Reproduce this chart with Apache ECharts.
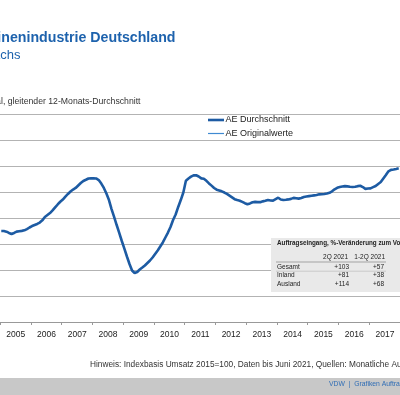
<!DOCTYPE html>
<html><head><meta charset="utf-8">
<script src="https://cdn.jsdelivr.net/npm/echarts@6/dist/echarts.min.js"></script>
<style>html,body{margin:0;padding:0;background:#fff;}#c{width:400px;height:395px;}</style>
</head><body><div id="c"></div>
<script>
// 12-month moving average, monthly values per year (Jan..Dec)
const years = [2005,2006,2007,2008,2009,2010,2011,2012,2013,2014,2015,2016,2017];
const ae2005 = [70.0,70.0,69.5,68.5,67.7,68.5,69.5,69.8,70.1,70.5,71.5,72.7];
const ae2006 = [73.8,74.6,75.4,76.5,78.2,80.8,82.3,83.8,85.8,88.1,90.4,92.5];
const ae2007 = [94.2,96.5,98.5,100.4,101.9,103.1,105.0,106.9,108.5,109.4,110.4,110.5];
const ae2008 = [110.5,110.4,109.2,106.5,103.1,98.8,93.8,86.9,80.8,74.6,68.5,62.3];
const ae2009 = [56.5,50.4,44.6,39.6,37.7,38.5,40.4,41.9,43.5,45.4,47.3,49.6];
const ae2010 = [52.3,55.0,58.1,61.2,65.0,68.8,73.1,78.5,82.7,88.5,93.8,99.6];
const ae2011 = [108.7,110.4,111.8,112.8,112.9,111.9,110.5,110.2,108.6,106.6,104.9,103.1];
const ae2012 = [101.8,101.2,100.5,99.6,98.5,97.2,95.9,94.5,93.8,93.3,92.4,91.4];
const ae2013 = [90.6,91.2,92.1,92.4,92.2,92.2,92.8,93.2,93.8,93.5,93.4,94.5];
const ae2014 = [95.6,94.2,93.8,94.0,94.3,94.7,95.5,95.2,94.9,95.4,96.2,96.5];
const ae2015 = [96.8,97.1,97.4,97.7,98.2,98.3,98.5,98.8,99.4,100.5,102.1,103.2];
const ae2016 = [103.8,104.2,104.5,104.3,104.0,103.9,104.0,104.5,104.8,103.8,102.4,102.7];
const ae2017 = [102.8,103.7,104.6,106.2,107.7,110.4,113.1,115.9,117.0,117.3,117.7,118.2];
const aeOriginal = [];
const legendNames = ['AE Durchschnitt','AE Originalwerte'];
const tableHead = ['2Q 2021','1-2Q 2021'];
const tableRows = ['Gesamt','Inland','Ausland'];
const tableQ2 = ['+103','+81','+114'];
const tableH1 = ['+57','+38','+68'];

const yearly = [ae2005,ae2006,ae2007,ae2008,ae2009,ae2010,ae2011,ae2012,ae2013,ae2014,ae2015,ae2016,ae2017];
const avgData = [];
years.forEach((y,i)=>yearly[i].forEach((v,m)=>avgData.push([y+(m+0.5)/12, v])));

const FONT = '"Liberation Sans", Arial, sans-serif';
const BLUE = '#1d5ba3';
const LIGHT = '#3f8ad2';
const chart = echarts.init(document.getElementById('c'), null, {renderer:'canvas'});

function txt(x,y,text,size,opts){
  opts = opts||{};
  return {type:'text', x:x, y:y, z:10, silent:true, style:{
    text:text, font:(opts.bold?'bold ':'')+size+'px '+FONT, fill:opts.color||'#222',
    textAlign:opts.align||'left', align:opts.align||'left',
    textVerticalAlign:'middle', verticalAlign:'middle'}};
}

const graphics = [
  txt(175.5,37.8,'Auftragseingang Werkzeugmaschinenindustrie Deutschland',14.2,{bold:true,color:'#1d62ad',align:'right'}),
  txt(20.5,55,'Auftragseingang mit kräftigem Zuwachs',13,{color:'#1d62ad',align:'right'}),
  txt(140.5,101.3,'Index real, gleitender 12-Monats-Durchschnitt',8.7,{color:'#333',align:'right'}),
  // legend
  {type:'line', shape:{x1:208,y1:120,x2:224,y2:120}, style:{stroke:BLUE,lineWidth:2.6}, z:10, silent:true},
  txt(225.5,120,legendNames[0],9,{color:'#222'}),
  {type:'line', shape:{x1:208,y1:133.5,x2:224,y2:133.5}, style:{stroke:LIGHT,lineWidth:1.2}, z:10, silent:true},
  txt(225.5,133.5,legendNames[1],9,{color:'#222'}),
  txt(90,365,'Hinweis: Indexbasis Umsatz 2015=100, Daten bis Juni 2021, Quellen: Monatliche Auftragseingangserhebung',8.3,{color:'#333'}),
  {type:'rect', shape:{x:0,y:378,width:400,height:17}, style:{fill:'#c8c8c8'}, z:1, silent:true},
  txt(329,384.5,'VDW  |  Grafiken Auftragseingang',6.8,{color:'#2f6db5'}),
  {type:'rect', shape:{x:271,y:238,width:140,height:54}, style:{fill:'#e9e9e9'}, z:5, silent:true},
  txt(277,243.5,'Auftragseingang, %-Veränderung zum Vorjahr',6.3,{bold:true,color:'#222'}),
  txt(348,257.5,tableHead[0],6.5,{color:'#222',align:'right'}),
  txt(385,257.5,tableHead[1],6.5,{color:'#222',align:'right'}),
  {type:'line', shape:{x1:276,y1:262,x2:386,y2:262}, style:{stroke:'#888',lineWidth:0.7}, z:10, silent:true},
];
tableRows.forEach((r,i)=>{
  const y = 267 + i*8.5;
  graphics.push(txt(277,y,r,6.5,{color:'#222'}));
  graphics.push(txt(349,y,tableQ2[i],6.5,{color:'#222',align:'right'}));
  graphics.push(txt(384,y,tableH1[i],6.5,{color:'#222',align:'right'}));
});
graphics.push({type:'line', shape:{x1:276,y1:271.2,x2:386,y2:271.2}, style:{stroke:'#aaa',lineWidth:0.5}, z:10, silent:true});

chart.setOption({
  animation:false,
  backgroundColor:'#fff',
  textStyle:{fontFamily:FONT},
  grid:{left:-6.4, right:-1.8, top:114, bottom:73, containLabel:false},
  xAxis:{
    type:'value', min:2005, max:2018, interval:1,
    axisLine:{lineStyle:{color:'#999',width:1}},
    axisTick:{show:true,length:3,lineStyle:{color:'#999'}},
    splitLine:{show:false},
    axisLabel:{fontSize:8.5, color:'#222', margin:8, padding:[0,0,0,31.4],
      formatter:v=>String(Math.round(v)), showMinLabel:true, showMaxLabel:false}
  },
  yAxis:{
    type:'value', min:0, max:160, interval:20,
    axisLine:{show:false}, axisTick:{show:false}, axisLabel:{show:false},
    splitLine:{lineStyle:{color:'#b3b3b3',width:1}}
  },
  series:[
    {name:legendNames[0], type:'line', data:avgData, showSymbol:false, symbol:'none',
     lineStyle:{color:BLUE,width:2.6}, itemStyle:{color:BLUE}, z:3},
    {name:legendNames[1], type:'line', data:aeOriginal, symbol:'none',
     lineStyle:{color:LIGHT,width:1}, itemStyle:{color:LIGHT}}
  ],
  graphic:graphics
});
</script></body></html>
